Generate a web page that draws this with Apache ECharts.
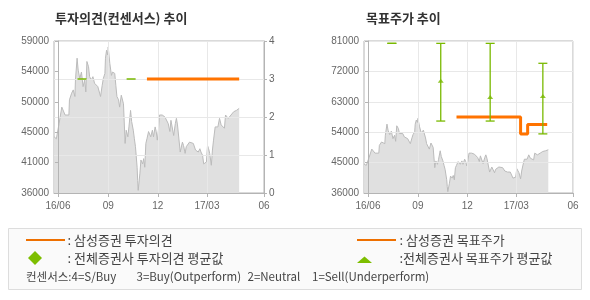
<!DOCTYPE html>
<html>
<head>
<meta charset="utf-8">
<script src="https://cdn.jsdelivr.net/npm/echarts@6/dist/echarts.min.js"></script>
<style>
html,body{margin:0;padding:0;background:#fff;}
#c{width:590px;height:300px;}
</style>
</head>
<body>
<div id="c"></div>
<script>
// ---- Data (x = days since 2016-06-01) ----
const priceDays = [-7,-3,0,2,5,7,10,13,15,20,21,25,28,31,32,35,37,40,43,46,49,51,53,56,58,61,64,67,70,73,76,78,81,83,86,87,89,91,92,95,98,100,102,104,106,108,111,113,116,118,120,123,125,128,130,133,135,138,140,142,145,146,147,150,152,155,157,159,161,163,166,168,170,173,175,178,180,182,184,186,189,191,194,196,199,202,205,207,210,212,215,217,219,222,224,226,228,230,233,235,238,241,244,248,250,252,255,257,260,262,265,267,270,272,274,276,278,281,283,285,288,290,293,296,299,302,305,307,310,312,315,317,320,322,324,327,329,332];
const prices = [44500,44200,44500,46500,46300,49000,49300,47800,47500,47800,50100,51100,51600,50600,53100,56400,54600,53300,54300,52100,53100,51300,55900,55100,53600,53100,53600,52600,52300,52100,51800,50600,52300,53300,54100,56400,57600,56900,58100,55600,53800,54300,54600,54100,52300,50600,50100,49000,50800,50800,49500,43500,45500,44500,46000,48500,46800,45500,44200,43000,39900,37900,36400,38900,41000,40400,41200,39900,43500,44200,45300,45500,44500,45500,44500,46000,45300,44000,45500,47800,48000,47800,48000,47500,47300,46500,45300,47000,47000,44700,46500,47300,46300,46000,42200,42200,43700,43200,42000,43000,42700,43700,44000,43500,43200,42500,42500,42200,42700,42200,41700,40400,40400,40700,43200,42700,42000,40200,42500,44000,46000,46000,46000,47300,46300,46000,45800,47800,47800,47300,47500,47800,48000,48300,48000,48500,48300,48800];

// Samsung Securities opinion (3 = Buy) and target price (step)
const samsungOpinionDays = [163, 332];
const samsungOpinion = [3, 3];
const samsungTargetDays = [163, 281, 294, 330];
const samsungTarget = [58500, 53500, 56300, 56300];

// All-broker consensus
const consDays = [44, 134, 225, 322];
const consOpinion = [3, 3, 3, 3];
const consTargetHigh = [80300, 80300, 80300, 74400];
const consTargetLow = [80300, 57300, 57300, 53500];
const consTargetMean = [null, 69200, 64400, 64700];

// Axes
const X_MIN = -7.3, X_MAX = 377.5;
const xTickDays = [0, 92, 183, 273, 377.5];
const xLabelDays = [0, 92, 183, 273, 377.5];
const xLabelText = ['16/06', '09', '12', '17/03', '06'];
const leftPriceTickVals = [36000, 40600, 45200, 49800, 54400, 59000];
const leftPriceTickLabels = ['36000', '41000', '45000', '50000', '54000', '59000'];

const ORANGE = '#ff7300';
const GREEN = '#79b900';
const AXIS = '#b4b4b4';
const GRIDC = '#e8e8e8';
const LBL = '#666';
const NUMFONT = '"Liberation Sans", Arial, sans-serif';
const KFONT = '"Noto Sans CJK KR", sans-serif';

const chart = echarts.init(document.getElementById('c'), null, {renderer: 'canvas'});

function xAxisFor(i) {
  return {
    type: 'value', gridIndex: i, min: X_MIN, max: X_MAX, z: 3,
    axisLine: {show: true, lineStyle: {color: AXIS}},
    axisTick: {show: true, customValues: xTickDays, length: 4, lineStyle: {color: AXIS}},
    axisLabel: {
      customValues: xLabelDays,
      formatter: v => { const k = xLabelDays.indexOf(v); return k >= 0 ? xLabelText[k] : ''; },
      color: LBL, fontSize: 10, fontFamily: NUMFONT, margin: 8
    },
    splitLine: {show: true, lineStyle: {color: GRIDC}}
  };
}

const pricePairs = priceDays.map((d, i) => [d, prices[i]]);

const option = {
  animation: false,
  grid: [
    {left: 54, top: 41, width: 210, height: 152, show: true, borderColor: AXIS, borderWidth: 1, backgroundColor: 'transparent'},
    {left: 364, top: 41, width: 209, height: 152, show: true, borderColor: AXIS, borderWidth: 1, backgroundColor: 'transparent'}
  ],
  xAxis: [xAxisFor(0), xAxisFor(1)],
  yAxis: [
    {
      type: 'value', gridIndex: 0, position: 'left', min: 36000, max: 59000, z: 3,
      axisLine: {show: true, lineStyle: {color: AXIS}},
      axisTick: {show: true, customValues: leftPriceTickVals, length: 3, lineStyle: {color: AXIS}},
      axisLabel: {
        customValues: leftPriceTickVals,
        formatter: v => { const k = leftPriceTickVals.indexOf(v); return k >= 0 ? leftPriceTickLabels[k] : ''; },
        color: LBL, fontSize: 10, fontFamily: NUMFONT, margin: 5
      },
      splitLine: {show: false}
    },
    {
      type: 'value', gridIndex: 0, position: 'right', min: 0, max: 4, interval: 1, z: 3,
      axisLine: {show: true, lineStyle: {color: AXIS}},
      axisTick: {show: true, length: 3, lineStyle: {color: AXIS}},
      axisLabel: {color: LBL, fontSize: 10, fontFamily: NUMFONT, margin: 5},
      splitLine: {show: true, lineStyle: {color: GRIDC}}
    },
    {
      type: 'value', gridIndex: 1, position: 'left', min: 36000, max: 81000, interval: 9000, z: 3,
      axisLine: {show: true, lineStyle: {color: AXIS}},
      axisTick: {show: true, length: 3, lineStyle: {color: AXIS}},
      axisLabel: {color: LBL, fontSize: 10, fontFamily: NUMFONT, margin: 5, formatter: v => String(v)},
      splitLine: {show: true, lineStyle: {color: GRIDC}}
    }
  ],
  series: [
    {
      type: 'line', xAxisIndex: 0, yAxisIndex: 0, data: pricePairs, z: 1,
      showSymbol: false, symbol: 'none',
      lineStyle: {color: '#bbbbbb', width: 1},
      areaStyle: {color: '#e0e0e0', opacity: 1}
    },
    {
      type: 'line', xAxisIndex: 1, yAxisIndex: 2, data: pricePairs, z: 1,
      showSymbol: false, symbol: 'none',
      lineStyle: {color: '#bbbbbb', width: 1},
      areaStyle: {color: '#e0e0e0', opacity: 1}
    },
    {
      type: 'custom', xAxisIndex: 0, yAxisIndex: 1, z: 4,
      data: consDays.map((d, i) => [d, consOpinion[i]]),
      encode: {x: 0, y: 1},
      renderItem: (params, api) => {
        const p = api.coord([api.value(0), api.value(1)]);
        return {type: 'line', shape: {x1: p[0] - 4.5, y1: p[1], x2: p[0] + 4.5, y2: p[1]},
                style: {stroke: GREEN, lineWidth: 1.5}};
      }
    },
    {
      type: 'line', xAxisIndex: 0, yAxisIndex: 1, z: 5,
      data: samsungOpinionDays.map((d, i) => [d, samsungOpinion[i]]),
      showSymbol: false, symbol: 'none',
      lineStyle: {color: ORANGE, width: 3}
    },
    {
      type: 'line', xAxisIndex: 1, yAxisIndex: 2, z: 5, step: 'end',
      data: samsungTargetDays.map((d, i) => [d, samsungTarget[i]]),
      showSymbol: false, symbol: 'none',
      lineStyle: {color: ORANGE, width: 3}
    },
    {
      type: 'custom', xAxisIndex: 1, yAxisIndex: 2, z: 6,
      data: consDays.map((d, i) => [d, consTargetHigh[i], consTargetLow[i]]),
      encode: {x: 0, y: [1, 2]},
      renderItem: (params, api) => {
        const x = api.value(0);
        const pH = api.coord([x, api.value(1)]);
        const pL = api.coord([x, api.value(2)]);
        const w = 4.5;
        const st = {stroke: GREEN, lineWidth: 1.3};
        return {type: 'group', children: [
          {type: 'line', shape: {x1: pH[0], y1: pH[1], x2: pL[0], y2: pL[1]}, style: st},
          {type: 'line', shape: {x1: pH[0] - w, y1: pH[1], x2: pH[0] + w, y2: pH[1]}, style: st},
          {type: 'line', shape: {x1: pL[0] - w, y1: pL[1], x2: pL[0] + w, y2: pL[1]}, style: st}
        ]};
      }
    },
    {
      type: 'scatter', xAxisIndex: 1, yAxisIndex: 2, z: 7,
      data: consDays.map((d, i) => [d, consTargetMean[i] === null ? '-' : consTargetMean[i]]),
      symbol: 'triangle', symbolSize: [6, 4],
      itemStyle: {color: GREEN}
    }
  ],
  graphic: [
    {type: 'text', left: 55, top: 12, z: 10,
     style: {text: '투자의견(컨센서스) 추이', font: 'bold 13px ' + KFONT, fill: '#333'}},
    {type: 'text', left: 366, top: 12, z: 10,
     style: {text: '목표주가 추이', font: 'bold 13px ' + KFONT, fill: '#333'}},
    {type: 'rect', z: 1, shape: {x: 8.5, y: 228.5, width: 573, height: 61},
     style: {fill: '#fafafa', stroke: '#dddddd', lineWidth: 1}},
    {type: 'line', z: 2, shape: {x1: 26, y1: 240, x2: 65, y2: 240}, style: {stroke: '#ee7000', lineWidth: 2}},
    {type: 'text', z: 2, x: 67.5, y: 240, style: {text: ': 삼성증권 투자의견', font: '13px ' + KFONT, fill: '#444', textVerticalAlign: 'middle'}},
    {type: 'polygon', z: 2, shape: {points: [[35, 251], [42, 258], [35, 265], [28, 258]]}, style: {fill: '#7dbe00'}},
    {type: 'text', z: 2, x: 67.5, y: 258, style: {text: ': 전체증권사 투자의견 평균값', font: '13px ' + KFONT, fill: '#444', textVerticalAlign: 'middle'}},
    {type: 'line', z: 2, shape: {x1: 357, y1: 240, x2: 396, y2: 240}, style: {stroke: '#ee7000', lineWidth: 2}},
    {type: 'text', z: 2, x: 399.5, y: 240, style: {text: ': 삼성증권 목표주가', font: '13px ' + KFONT, fill: '#444', textVerticalAlign: 'middle'}},
    {type: 'polygon', z: 2, shape: {points: [[357, 263], [372, 263], [364.5, 256.5]]}, style: {fill: '#7dbe00'}},
    {type: 'text', z: 2, x: 399.5, y: 258, style: {text: ':전체증권사 목표주가 평균값', font: '13px ' + KFONT, fill: '#444', textVerticalAlign: 'middle'}},
    {type: 'text', z: 2, x: 26, y: 276.5, style: {text: '컨센서스:4=S/Buy', font: '11.5px ' + KFONT, fill: '#444', textVerticalAlign: 'middle'}},
    {type: 'text', z: 2, x: 136.5, y: 276.5, style: {text: '3=Buy(Outperform)', font: '11.5px ' + KFONT, fill: '#444', textVerticalAlign: 'middle'}},
    {type: 'text', z: 2, x: 247.5, y: 276.5, style: {text: '2=Neutral', font: '11.5px ' + KFONT, fill: '#444', textVerticalAlign: 'middle'}},
    {type: 'text', z: 2, x: 312, y: 276.5, style: {text: '1=Sell(Underperform)', font: '11.5px ' + KFONT, fill: '#444', textVerticalAlign: 'middle'}}
  ]
};
chart.setOption(option);
</script>
</body>
</html>
